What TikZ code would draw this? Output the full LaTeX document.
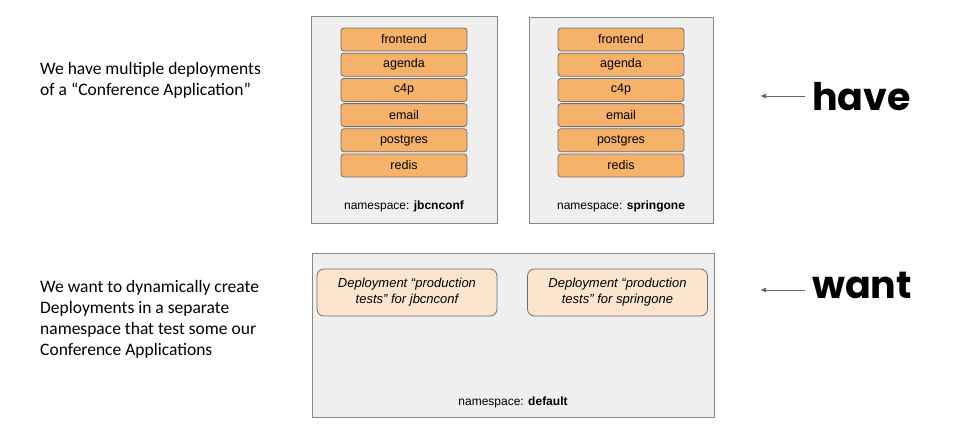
\documentclass[tikz,border=0pt]{standalone}
\usepackage{fontspec}
\usetikzlibrary{arrows.meta}
\setmainfont{Liberation Sans}
\newfontfamily\calfont{Carlito}
\newfontfamily\handfont{Poppins}
\definecolor{nsfill}{HTML}{EFEFEF}
\definecolor{nsline}{HTML}{888888}
\definecolor{orfill}{HTML}{F6B26B}
\definecolor{orline}{HTML}{6E6E6E}
\definecolor{pfill}{HTML}{FCE5CD}
\definecolor{arr}{HTML}{666666}
\begin{document}
\begin{tikzpicture}[x=1pt,y=-1pt,
  nsbox/.style={draw=nsline,fill=nsfill,line width=0.9pt},
  svc/.style={draw=orline,fill=orfill,rounded corners=3pt,line width=0.8pt,minimum width=126pt,minimum height=23pt,inner sep=0pt,font=\fontsize{12.5}{14}\selectfont},
  dep/.style={draw=orline,fill=pfill,rounded corners=7pt,line width=0.8pt,minimum width=180pt,minimum height=47pt,inner sep=0pt,align=center,font=\fontsize{13}{16}\selectfont\itshape},
  nslabel/.style={font=\fontsize{12}{14}\selectfont,inner sep=0pt},
  desc/.style={anchor=west,align=left,inner sep=0pt,font=\calfont\fontsize{17.5}{21}\selectfont},
  hand/.style={anchor=west,inner sep=0pt,font=\handfont\fontsize{38}{40}\selectfont\bfseries},
  pointer/.style={draw=arr,line width=1pt,-{Latex[length=6pt,width=5pt]}}
]
\useasboundingbox (0,0) rectangle (966,426);
% top namespaces
\node[nsbox,minimum width=186pt,minimum height=207pt,inner sep=0pt] (ns1) at (404,119.5) {};
\node[nsbox,minimum width=184pt,minimum height=206pt,inner sep=0pt] (ns2) at (621,120) {};
\foreach \n/\t [count=\i from 0] in {fe/frontend,ag/agenda,cp/c4p,em/email,pg/postgres,rd/redis}{
  \node[svc] (a\n) at (404,{39.5+25.2*\i}) {\t};
  \node[svc] (b\n) at (621,{39.5+25.2*\i}) {\t};
}
\node[nslabel] (l1) at (404,206) {namespace: \textbf{jbcnconf}};
\node[nslabel] (l2) at (621,206) {namespace: \textbf{springone}};
% bottom namespace
\node[nsbox,minimum width=402pt,minimum height=164pt,inner sep=0pt] (ns3) at (513,335) {};
\node[dep] (d1) at (407,292.5) {Deployment “production\\tests” for jbcnconf};
\node[dep] (d2) at (617.5,292.5) {Deployment “production\\tests” for springone};
\node[nslabel] (l3) at (513,402) {namespace: \textbf{default}};
% descriptions
\node[desc] (t1) at (40,80.5) {We have multiple deployments\\of a “Conference Application”};
\node[desc] (t2) at (40,319.5) {We want to dynamically create\\Deployments in a separate\\namespace that test some our\\Conference Applications};
% have / want
\node[hand] (have) at (812,97) {have};
\node[hand] (want) at (812,285) {want};
\coordinate (h1) at (805,96);
\coordinate (h2) at (760,96);
\coordinate (w1) at (805,290);
\coordinate (w2) at (760,290);
\draw[pointer] (h1) -- (h2);
\draw[pointer] (w1) -- (w2);
\end{tikzpicture}
\end{document}
